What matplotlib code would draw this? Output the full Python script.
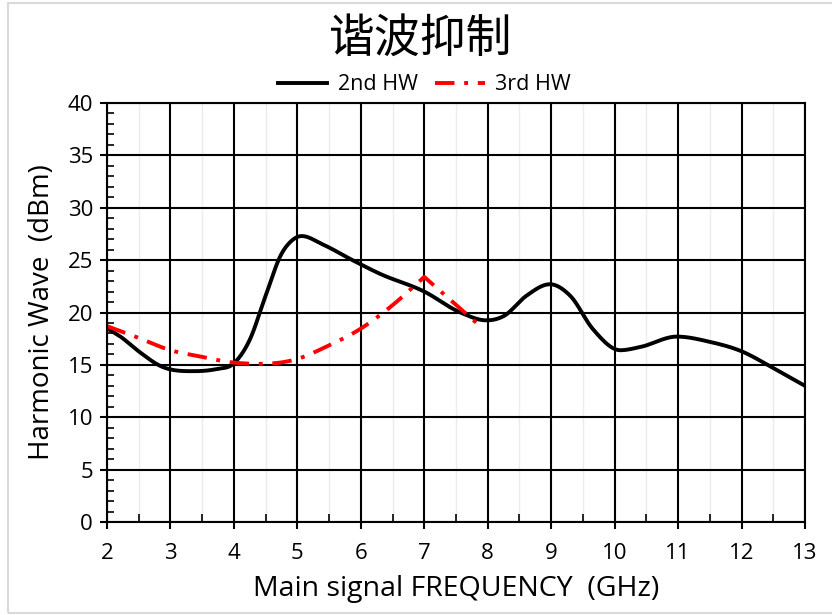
import numpy as np
import matplotlib.pyplot as plt
from matplotlib.patches import Rectangle
from matplotlib.ticker import MultipleLocator

plt.rcParams['font.family'] = ['Open Sans', 'Noto Sans CJK SC', 'DejaVu Sans']

# ---------------- data (GHz, dBm) ----------------
freq_2nd = [2, 2.2, 2.52, 2.84, 3.36, 3.72, 4, 4.25, 4.5, 4.75, 4.9, 5.07, 5.4, 5.9, 6.3, 7,
            7.57, 7.98, 8.25, 8.61, 8.98, 9.3, 9.66, 10.09, 10.4, 10.98, 11.5, 12, 12.5, 13]
hw_2nd = [18.5, 17.75, 16.2, 14.9, 14.4, 14.6, 15.15, 17.4, 21.6, 25.6, 26.8, 27.3, 26.5, 24.9, 23.7, 22.0,
          20.0, 19.25, 19.65, 21.6, 22.7, 21.6, 18.4, 16.4, 16.7, 17.7, 17.2, 16.3, 14.7, 13.0]

freq_3rd = [2, 2.47, 3, 3.47, 3.89, 4.41, 4.99, 5.46, 6.01, 6.5, 7, 7.9]
hw_3rd = [18.7, 17.65, 16.4, 15.8, 15.3, 15.1, 15.55, 16.75, 18.5, 20.7, 23.4, 18.6]

x_ticks = list(range(2, 14))
y_ticks = list(range(0, 41, 5))


def smooth(x, y, corners=(), n=30):
    """Cubic Hermite through the points: three-point slopes, flat at turning points,
    except at the given corner indices where each side keeps its own slope."""
    x = np.asarray(x, float)
    y = np.asarray(y, float)
    h = np.diff(x)
    delta = np.diff(y) / h
    d_in = np.zeros_like(y)
    d_in[0], d_in[-1] = delta[0], delta[-1]
    for i in range(1, len(x) - 1):
        if delta[i - 1] * delta[i] > 0:
            d_in[i] = (h[i] * delta[i - 1] + h[i - 1] * delta[i]) / (h[i - 1] + h[i])
    d_out = d_in.copy()
    for i in corners:
        d_in[i], d_out[i] = delta[i - 1], delta[i]
    xs, ys = [], []
    t = np.linspace(0, 1, n, endpoint=False)
    h00 = 2 * t ** 3 - 3 * t ** 2 + 1
    h10 = t ** 3 - 2 * t ** 2 + t
    h01 = -2 * t ** 3 + 3 * t ** 2
    h11 = t ** 3 - t ** 2
    for i in range(len(x) - 1):
        xs.extend(x[i] + t * h[i])
        ys.extend(h00 * y[i] + h10 * h[i] * d_out[i] + h01 * y[i + 1] + h11 * h[i] * d_in[i + 1])
    xs.append(x[-1])
    ys.append(y[-1])
    return np.array(xs), np.array(ys)


fig = plt.figure(figsize=(8.32, 6.15), dpi=100)
ax = fig.add_axes([0.1286, 0.1512, 0.8389, 0.6813])

# grid: faint half-GHz lines, strong major lines
ax.xaxis.set_minor_locator(MultipleLocator(0.5))
ax.yaxis.set_minor_locator(MultipleLocator(1))
ax.grid(which='minor', axis='x', color='#ececec', lw=1.0)
ax.grid(which='major', color='black', lw=1.5)
ax.set_axisbelow(True)

sx, sy = smooth(freq_2nd, hw_2nd)
ax.plot(sx, sy, color='black', lw=2.8, label='2nd HW')
peak_3rd = int(np.argmax(hw_3rd))
rx, ry = smooth(freq_3rd, hw_3rd, corners=[peak_3rd])
ax.plot(rx, ry, color='#ff0000', lw=2.8, linestyle=(0, (5, 2.5, 1, 2.5)), label='3rd HW')

ax.set_xlim(2, 13)
ax.set_ylim(0, 40)
ax.set_xticks(x_ticks)
ax.set_yticks(y_ticks)
ax.tick_params(which='major', direction='out', length=5, width=1.5, labelsize=16, pad=5)
ax.tick_params(axis='x', which='major', pad=10)
ax.tick_params(which='minor', direction='in', length=5, width=1.2)
ax.tick_params(axis='x', which='minor', length=6)
for s in ax.spines.values():
    s.set_linewidth(1.5)

ax.set_xlabel('Main signal FREQUENCY  (GHz)', fontsize=20.5, labelpad=8)
ax.set_ylabel('Harmonic Wave  (dBm)', fontsize=20, labelpad=8)

fig.text(0.505, 0.938, '谐波抑制', ha='center', va='center', fontsize=33,
         family=['Noto Sans CJK SC'])
fig.legend(loc='center', bbox_to_anchor=(0.51, 0.862), ncol=2, frameon=False,
           fontsize=15.5, handlelength=2.3, columnspacing=0.8, handletextpad=0.5)

# light outline round the whole chart
fig.patches.append(Rectangle((0.0095, 0.003), 1.0, 0.992, transform=fig.transFigure,
                             fill=False, edgecolor='#d9d9d9', lw=1.5))

fig.savefig('out.png', dpi=100)
